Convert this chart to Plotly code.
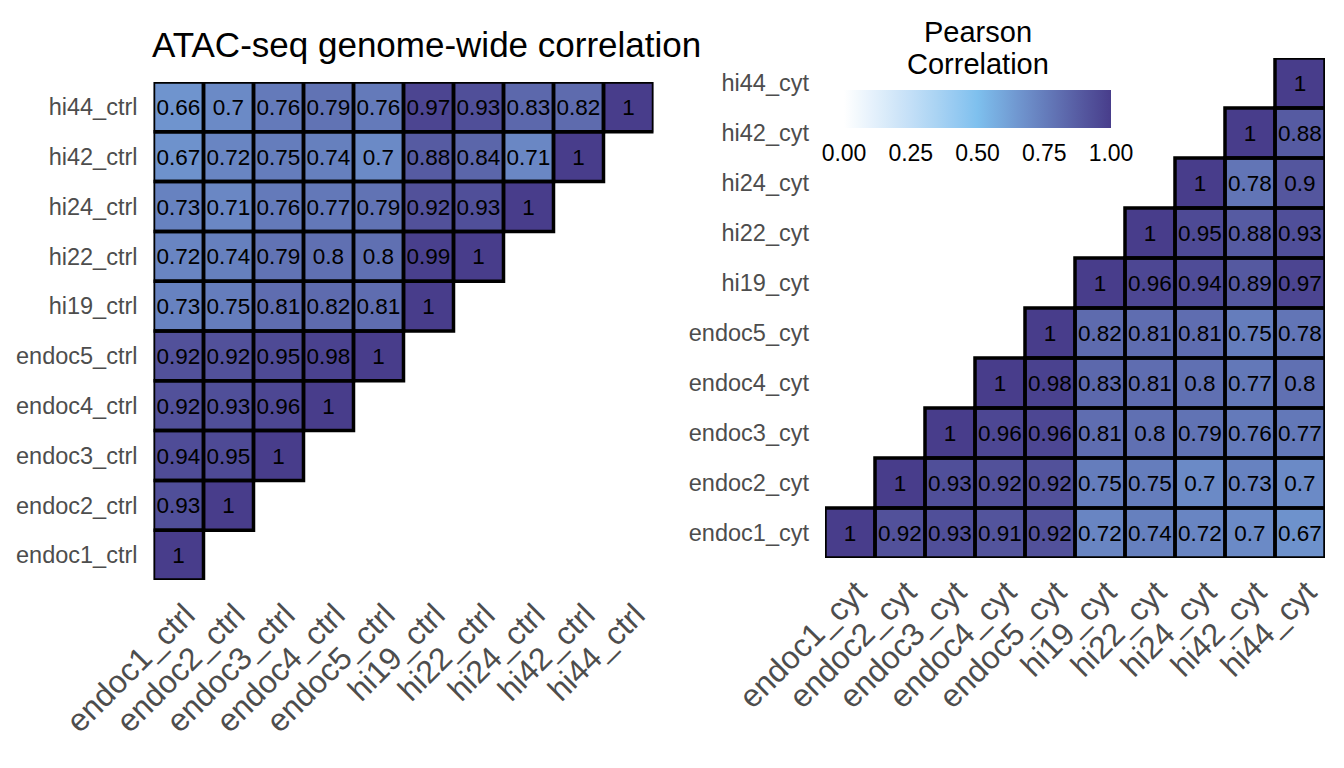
import plotly.graph_objects as go
import numpy as np

# ---------------- data ----------------
ctrl_labels = ["endoc1_ctrl", "endoc2_ctrl", "endoc3_ctrl", "endoc4_ctrl", "endoc5_ctrl",
               "hi19_ctrl", "hi22_ctrl", "hi24_ctrl", "hi42_ctrl", "hi44_ctrl"]
cyt_labels = ["endoc1_cyt", "endoc2_cyt", "endoc3_cyt", "endoc4_cyt", "endoc5_cyt",
              "hi19_cyt", "hi22_cyt", "hi24_cyt", "hi42_cyt", "hi44_cyt"]

# ctrl: each row (y label) lists values for columns endoc1_ctrl .. (diagonal)
ctrl_endoc1 = [1]
ctrl_endoc2 = [0.93, 1]
ctrl_endoc3 = [0.94, 0.95, 1]
ctrl_endoc4 = [0.92, 0.93, 0.96, 1]
ctrl_endoc5 = [0.92, 0.92, 0.95, 0.98, 1]
ctrl_hi19 = [0.73, 0.75, 0.81, 0.82, 0.81, 1]
ctrl_hi22 = [0.72, 0.74, 0.79, 0.8, 0.8, 0.99, 1]
ctrl_hi24 = [0.73, 0.71, 0.76, 0.77, 0.79, 0.92, 0.93, 1]
ctrl_hi42 = [0.67, 0.72, 0.75, 0.74, 0.7, 0.88, 0.84, 0.71, 1]
ctrl_hi44 = [0.66, 0.7, 0.76, 0.79, 0.76, 0.97, 0.93, 0.83, 0.82, 1]
ctrl_rows = [ctrl_endoc1, ctrl_endoc2, ctrl_endoc3, ctrl_endoc4, ctrl_endoc5,
             ctrl_hi19, ctrl_hi22, ctrl_hi24, ctrl_hi42, ctrl_hi44]

# cyt: each row (y label) lists values for columns from the diagonal .. hi44_cyt
cyt_endoc1 = [1, 0.92, 0.93, 0.91, 0.92, 0.72, 0.74, 0.72, 0.7, 0.67]
cyt_endoc2 = [1, 0.93, 0.92, 0.92, 0.75, 0.75, 0.7, 0.73, 0.7]
cyt_endoc3 = [1, 0.96, 0.96, 0.81, 0.8, 0.79, 0.76, 0.77]
cyt_endoc4 = [1, 0.98, 0.83, 0.81, 0.8, 0.77, 0.8]
cyt_endoc5 = [1, 0.82, 0.81, 0.81, 0.75, 0.78]
cyt_hi19 = [1, 0.96, 0.94, 0.89, 0.97]
cyt_hi22 = [1, 0.95, 0.88, 0.93]
cyt_hi24 = [1, 0.78, 0.9]
cyt_hi42 = [1, 0.88]
cyt_hi44 = [1]
cyt_rows = [cyt_endoc1, cyt_endoc2, cyt_endoc3, cyt_endoc4, cyt_endoc5,
            cyt_hi19, cyt_hi22, cyt_hi24, cyt_hi42, cyt_hi44]

cbar_ticks = [0, 0.25, 0.5, 0.75, 1.0]
cbar_ticktext = ["0.00", "0.25", "0.50", "0.75", "1.00"]

# ---------------- colour scale (Lab interpolation like ggplot gradient2) ----------------
def hex2rgb(h):
    h = h.lstrip("#")
    return np.array([int(h[i:i + 2], 16) for i in (0, 2, 4)], float)

M = np.array([[0.4124564, 0.3575761, 0.1804375],
              [0.2126729, 0.7151522, 0.0721750],
              [0.0193339, 0.1191920, 0.9503041]])
WHITE = M @ np.ones(3)

def rgb2lab(rgb):
    c = rgb / 255.0
    lin = np.where(c <= 0.04045, c / 12.92, ((c + 0.055) / 1.055) ** 2.4)
    xyz = M @ lin / WHITE
    f = np.where(xyz > 216 / 24389, np.cbrt(xyz), (24389 / 27 * xyz + 16) / 116)
    return np.array([116 * f[1] - 16, 500 * (f[0] - f[1]), 200 * (f[1] - f[2])])

def lab2rgb(lab):
    L, a, b = lab
    fy = (L + 16) / 116
    fx = fy + a / 500
    fz = fy - b / 200
    f = np.array([fx, fy, fz])
    xyz = np.where(f ** 3 > 216 / 24389, f ** 3, (116 * f - 16) / (24389 / 27)) * WHITE
    lin = np.linalg.solve(M, xyz)
    lin = np.clip(lin, 0, 1)
    c = np.where(lin <= 0.0031308, 12.92 * lin, 1.055 * lin ** (1 / 2.4) - 0.055)
    return np.clip(np.round(c * 255), 0, 255).astype(int)

low, mid, high = rgb2lab(hex2rgb("#FFFFFF")), rgb2lab(hex2rgb("#7EC0EE")), rgb2lab(hex2rgb("#483D8B"))
colorscale = []
for t in np.linspace(0, 1, 21):
    if t <= 0.5:
        lab = low + (mid - low) * (t / 0.5)
    else:
        lab = mid + (high - mid) * ((t - 0.5) / 0.5)
    r, g, b = lab2rgb(lab)
    colorscale.append([float(t), f"rgb({r},{g},{b})"])

# ---------------- build matrices ----------------
n = len(ctrl_labels)
z_ctrl = [[None] * n for _ in range(n)]
t_ctrl = [[""] * n for _ in range(n)]
for r, row in enumerate(ctrl_rows):
    for k, v in enumerate(row):
        z_ctrl[r][k] = v
        t_ctrl[r][k] = f"{v:g}"

z_cyt = [[None] * n for _ in range(n)]
t_cyt = [[""] * n for _ in range(n)]
for r, row in enumerate(cyt_rows):
    for k, v in enumerate(row):
        z_cyt[r][r + k] = v
        t_cyt[r][r + k] = f"{v:g}"

idx = list(range(n))
FONT = "Liberation Sans, Arial, Helvetica, sans-serif"

fig = go.Figure()
fig.add_trace(go.Heatmap(z=z_ctrl, x=idx, y=idx, text=t_ctrl, texttemplate="%{text}",
                         textfont=dict(size=22.5, color="black", family=FONT),
                         coloraxis="coloraxis", xaxis="x", yaxis="y", hoverongaps=False))
fig.add_trace(go.Heatmap(z=z_cyt, x=idx, y=idx, text=t_cyt, texttemplate="%{text}",
                         textfont=dict(size=22.5, color="black", family=FONT),
                         coloraxis="coloraxis", xaxis="x2", yaxis="y2", hoverongaps=False))

shapes = []
for zmat, xr, yr in ((z_ctrl, "x", "y"), (z_cyt, "x2", "y2")):
    for r in range(n):
        for c in range(n):
            if zmat[r][c] is not None:
                shapes.append(dict(type="rect", xref=xr, yref=yr,
                                   x0=c - 0.5, x1=c + 0.5, y0=r - 0.5, y1=r + 0.5,
                                   line=dict(color="black", width=3.5), layer="above"))

# page body has an 8px margin: figure is sized to fit the window exactly
OFF = 8
W, H = 1344 - 2 * OFF, 768 - 2 * OFF

def px(x):
    return (x - OFF) / W

def py(y):
    return 1 - (y - OFF) / H

ax_common = dict(showgrid=False, zeroline=False, showline=False, ticks="",
                 range=[-0.5, n - 0.5], tickmode="array", tickvals=idx, automargin=False)

fig.update_layout(
    width=W, height=H,
    margin=dict(l=0, r=0, t=0, b=0, autoexpand=False),
    paper_bgcolor="white", plot_bgcolor="white",
    font=dict(family=FONT, color="#4D4D4D"),
    shapes=shapes,
    xaxis=dict(**ax_common, domain=[px(153.5), px(653.5)], ticktext=ctrl_labels,
               tickangle=-45, tickfont=dict(size=32, color="#4D4D4D"), anchor="y",
               ticklabelstandoff=9, ticklabelshift=7),
    yaxis=dict(**ax_common, domain=[py(580), py(82)], ticktext=ctrl_labels,
               tickfont=dict(size=23.5, color="#4D4D4D"), anchor="x", ticklabelstandoff=15),
    xaxis2=dict(**ax_common, domain=[px(825), px(1325)], ticktext=cyt_labels,
                tickangle=-45, tickfont=dict(size=32, color="#4D4D4D"), anchor="y2",
                ticklabelstandoff=8, ticklabelshift=7),
    yaxis2=dict(**ax_common, domain=[py(558), py(58)], ticktext=cyt_labels,
                tickfont=dict(size=23.5, color="#4D4D4D"), anchor="x2", ticklabelstandoff=15),
    coloraxis=dict(
        colorscale=colorscale, cmin=0, cmax=1,
        colorbar=dict(orientation="h", x=px(977.5), xanchor="center",
                      y=py(90), yanchor="top", xpad=0, ypad=0,
                      len=267, lenmode="pixels", thickness=38, thicknessmode="pixels",
                      outlinewidth=0, tickmode="array", tickvals=cbar_ticks,
                      ticktext=cbar_ticktext, ticks="outside", ticklen=6,
                      tickcolor="white", tickfont=dict(size=23, color="black", family=FONT),
                      title=dict(text="")),
    ),
    annotations=[
        dict(text="ATAC-seq genome-wide correlation", x=px(150), y=py(45),
             xref="paper", yref="paper", xanchor="left", yanchor="middle",
             showarrow=False, font=dict(size=35, color="black", family=FONT)),
        dict(text="Pearson", x=px(977.5), y=py(32),
             xref="paper", yref="paper", xanchor="center", yanchor="middle",
             showarrow=False, font=dict(size=29, color="black", family=FONT)),
        dict(text="Correlation", x=px(977.5), y=py(64),
             xref="paper", yref="paper", xanchor="center", yanchor="middle",
             showarrow=False, font=dict(size=29, color="black", family=FONT)),
    ],
)

fig.write_html("out.html")
